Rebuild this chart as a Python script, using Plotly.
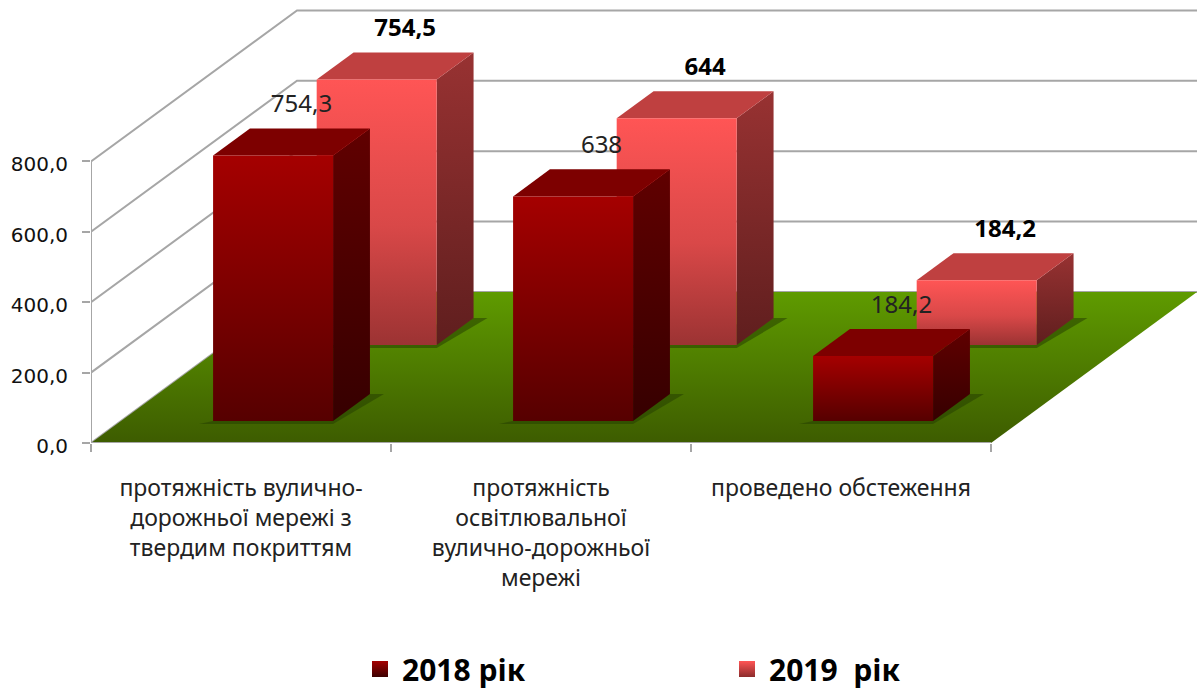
import plotly.graph_objects as go

categories = ["протяжність вулично-<br>дорожньої мережі з<br>твердим покриттям",
              "протяжність<br>освітлювальної<br>вулично-дорожньої<br>мережі",
              "проведено обстеження"]
series_2018 = [754.3, 638, 184.2]
series_2019 = [754.5, 644, 184.2]
labels_2018 = ["754,3", "638", "184,2"]
labels_2019 = ["754,5", "644", "184,2"]
y_ticks = [0, 200, 400, 600, 800]
y_tick_labels = ["0,0", "200,0", "400,0", "600,0", "800,0"]

# oblique projection of the 3-D chart box onto the flat axes
PX_X = 300.0           # pixels per category
PX_Y = 70.4 / 200      # pixels per value unit
DX = 206 / PX_X        # shift of the full depth, in category units
DY = 151 / PX_Y        # shift of the full depth, in value units
GAP = 92 / PX_X
BAR_W = 120 / PX_X
DEPTHS = {"2018": (0.146, 0.325), "2019": (0.649, 0.828)}
GRID = "#a6a6a6"
FONT = "Noto Sans"


def proj(c, v, d):
    return c + DX * d, v + DY * d


def poly(points, stops=None, color=None):
    xs, ys = zip(*[proj(*p) for p in points + [points[0]]])
    kw = dict(fillgradient=dict(type="vertical", colorscale=stops)) if stops else dict(fillcolor=color)
    return go.Scatter(x=xs, y=ys, mode="lines", fill="toself", line=dict(width=0),
                      hoverinfo="skip", showlegend=False, **kw)


def line(points, width=2):
    xs, ys = zip(*[proj(*p) for p in points])
    return go.Scatter(x=xs, y=ys, mode="lines", line=dict(color=GRID, width=width),
                      hoverinfo="skip", showlegend=False)


fig = go.Figure()

# walls
for v in y_ticks:
    fig.add_trace(line([(0, v, 0), (0, v, 1), (3, v, 1)]))
fig.add_trace(line([(0, 0, 0), (0, 800, 0)]))

# floor
fig.add_trace(poly([(0, 0, 0), (3, 0, 0), (3, 0, 1), (0, 0, 1)],
                   stops=[[0, "#3d5c00"], [1, "#5f9b00"]]))
fig.add_trace(line([(0, 0, 0), (3, 0, 0)]))


def bar(i, value, depth, front, top, side):
    c0, c1 = i + GAP, i + GAP + BAR_W
    d0, d1 = depth
    sh = 14 / PX_X
    lo = 3 / PX_Y
    fig.add_trace(poly([(c0 - sh, -lo, d0), (c1, -lo, d0), (c1 + sh, 0, d1), (c1, 0, d1), (c0, 0, d0)],
                       color="rgba(38,64,0,0.55)"))
    fig.add_trace(poly([(c1, 0, d0), (c1, 0, d1), (c1, value, d1), (c1, value, d0)], stops=side))
    fig.add_trace(poly([(c0, value, d0), (c1, value, d0), (c1, value, d1), (c0, value, d1)], color=top))
    fig.add_trace(poly([(c0, 0, d0), (c1, 0, d0), (c1, value, d0), (c0, value, d0)], stops=front))


front_19 = [[0, "#9c3333"], [0.45, "#d94848"], [1, "#ff5555"]]
side_19 = [[0, "#5f1e1e"], [1, "#983232"]]
front_18 = [[0, "#560000"], [1, "#a50000"]]
side_18 = [[0, "#360000"], [1, "#600000"]]

for i, v in enumerate(series_2019):
    bar(i, v, DEPTHS["2019"], front_19, "#bf4040", side_19)
for i, v in enumerate(series_2018):
    bar(i, v, DEPTHS["2018"], front_18, "#7d0000", side_18)


def value_labels(values, labels, depth, font):
    xs, ys = [], []
    for i, v in enumerate(values):
        x, _ = proj(i + 0.5, v, sum(depth) / 2)
        _, y = proj(i, v, depth[1])
        xs.append(x + 12 / PX_X)
        ys.append(y + 22 / PX_Y)
    fig.add_trace(go.Scatter(x=xs, y=ys, mode="text", text=labels, textposition="middle center",
                             textfont=font, hoverinfo="skip", showlegend=False))


value_labels(series_2019, labels_2019, DEPTHS["2019"],
             dict(family=FONT, size=24, color="#000000", weight="bold"))
value_labels(series_2018, labels_2018, DEPTHS["2018"],
             dict(family=FONT, size=24, color="#222222"))

# legend entries
for name, mid, edge in [("2018 рік", "#a50000", "#3c0000"),
                        ("2019\u00a0\u00a0рік", "#ff5555", "#8c2c2c")]:
    fig.add_trace(go.Scatter(x=[None], y=[None], mode="markers", name=name,
                             marker=dict(symbol="square", size=19, color=mid,
                                         gradient=dict(type="vertical", color=edge))))

fig.update_layout(
    width=1197, height=689, margin=dict(l=91, r=0, t=0, b=246, autoexpand=False),
    paper_bgcolor="white", plot_bgcolor="white", font=dict(family=FONT, color="#222222"),
    xaxis=dict(range=[0, 1106 / PX_X], showgrid=False, zeroline=False, showline=False,
               tickmode="array", tickvals=[0.5, 1.5, 2.5], ticktext=categories, ticks="",
               tickangle=0, tickfont=dict(size=23, color="#222222"), ticklabelstandoff=29,
               minor=dict(tickmode="array", tickvals=[0, 1, 2, 3], ticks="outside", ticklen=8,
                          tickwidth=2, tickcolor=GRID, showgrid=False)),
    yaxis=dict(range=[0, 443 / PX_Y], showgrid=False, zeroline=False, showline=False,
               tickmode="array", tickvals=y_ticks, ticktext=y_tick_labels, ticks="outside",
               ticklen=8, tickwidth=2, tickcolor=GRID, ticklabelstandoff=10, ticklabelshift=3,
               tickfont=dict(size=20, family="DejaVu Sans", color="#111111")),
    showlegend=True,
    legend=dict(orientation="h", x=(358 - 91) / 1106, y=-(669 - 443) / 443, xanchor="left", yanchor="middle",
                entrywidth=318, entrywidthmode="pixels", itemwidth=34, itemclick=False, itemdoubleclick=False,
                font=dict(family=FONT, size=30, color="#000000", weight="bold")),
)
fig.write_html("out.html", config=dict(displayModeBar=False),
               post_script="document.body.style.margin='0';document.body.style.overflow='hidden';")
